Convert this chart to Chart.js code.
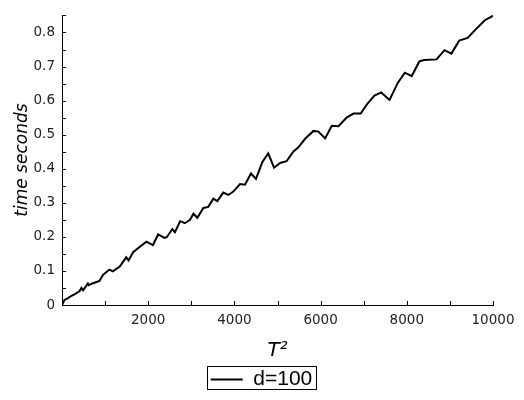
<!DOCTYPE html>
<html>
<head>
<meta charset="utf-8">
<script src="https://cdn.jsdelivr.net/npm/chart.js@4"></script>
<style>
  html, body { margin: 0; padding: 0; background: #fff; }
  #wrap { width: 524px; height: 400px; }
</style>
</head>
<body>
<div id="wrap"><canvas id="timeChart"></canvas></div>
<script>
// T^2 on the x axis, run time in seconds on the y axis
const tSquared = [0, 60, 140, 220, 300, 410, 450, 490, 600, 620, 720, 870, 950, 1100, 1180, 1340,
  1490, 1545, 1650, 1800, 1960, 2110, 2230, 2380, 2430, 2560, 2620, 2740, 2850, 2970, 3050, 3140,
  3280, 3395, 3510, 3605, 3740, 3860, 3975, 4130, 4245, 4385, 4500, 4650, 4785, 4920, 5060, 5210,
  5370, 5485, 5640, 5835, 5950, 6105, 6260, 6415, 6610, 6765, 6930, 7080, 7250, 7405, 7600, 7790,
  7955, 8115, 8290, 8400, 8690, 8875, 9035, 9215, 9410, 9600, 9810, 10000];
const timeSec = [0, 0.015, 0.02, 0.027, 0.032, 0.041, 0.05, 0.043, 0.063, 0.058, 0.064, 0.071, 0.088, 0.104, 0.099, 0.113,
  0.14, 0.131, 0.155, 0.17, 0.186, 0.176, 0.207, 0.197, 0.199, 0.223, 0.214, 0.246, 0.24, 0.25, 0.268, 0.256,
  0.285, 0.288, 0.312, 0.305, 0.33, 0.323, 0.333, 0.355, 0.353, 0.386, 0.37, 0.42, 0.445, 0.403, 0.417, 0.422,
  0.451, 0.463, 0.488, 0.511, 0.509, 0.489, 0.526, 0.525, 0.551, 0.562, 0.562, 0.59, 0.615, 0.624, 0.602, 0.652,
  0.682, 0.672, 0.715, 0.719, 0.721, 0.748, 0.738, 0.776, 0.784, 0.809, 0.836, 0.849];
const xTicks = [2000, 4000, 6000, 8000, 10000];
const yTicks = [0, 0.1, 0.2, 0.3, 0.4, 0.5, 0.6, 0.7, 0.8];

const tickFont = { family: 'DejaVu Sans', size: 13.5 };

// small tick marks pointing into the plot, plus the box round the legend
const innerTicks = {
  id: 'innerTicks',
  afterDraw(chart) {
    const { ctx, chartArea, scales } = chart;
    ctx.save();
    ctx.strokeStyle = '#000';
    ctx.lineWidth = 1;
    ctx.beginPath();
    for (let v = 1000; v <= 10000; v += 1000) {
      const px = Math.round(scales.x.getPixelForValue(v)) + 0.5;
      ctx.moveTo(px, chartArea.bottom);
      ctx.lineTo(px, chartArea.bottom - 4);
    }
    for (let i = 1; i <= 17; i++) {
      const py = Math.round(scales.y.getPixelForValue(i * 0.05)) + 0.5;
      ctx.moveTo(chartArea.left, py);
      ctx.lineTo(chartArea.left + 4, py);
    }
    ctx.stroke();
    const hb = chart.legend.legendHitBoxes[0];
    if (hb) {
      ctx.strokeRect(Math.round(hb.left) - 3.5, Math.round(hb.top) - 2.5,
        Math.round(hb.width) + 8, Math.round(hb.height) + 2);
    }
    ctx.restore();
  }
};

new Chart(document.getElementById('timeChart'), {
  type: 'line',
  data: {
    datasets: [{
      label: 'd=100',
      data: tSquared.map((x, i) => ({ x: x, y: timeSec[i] })),
      borderColor: '#000',
      backgroundColor: '#000',
      borderWidth: 2,
      pointRadius: 0,
      tension: 0,
      fill: false
    }]
  },
  options: {
    responsive: true,
    maintainAspectRatio: false,
    animation: false,
    layout: { padding: { top: 8, right: 31, left: 30, bottom: 0 } },
    plugins: {
      legend: {
        position: 'bottom',
        labels: {
          usePointStyle: true,
          pointStyle: 'line',
          pointStyleWidth: 32,
          padding: 4,
          color: '#000',
          font: { family: 'Liberation Sans', size: 21 }
        }
      },
      tooltip: { enabled: false }
    },
    scales: {
      x: {
        type: 'linear',
        min: 0,
        max: 10000,
        afterFit(scale) { scale.height = 60; },
        afterBuildTicks(scale) { scale.ticks = xTicks.map(v => ({ value: v })); },
        grid: { display: false, drawTicks: false },
        border: { color: '#000', width: 1 },
        ticks: { color: '#222', font: tickFont, padding: 7, maxRotation: 0, callback: v => String(v) },
        title: {
          display: true,
          text: 'T²',
          color: '#000',
          font: { family: 'DejaVu Sans', size: 20, style: 'italic' },
          padding: { top: 0, bottom: 2 }
        }
      },
      y: {
        min: 0,
        max: 0.851,
        afterFit(scale) { scale.width = 32; },
        afterBuildTicks(scale) { scale.ticks = yTicks.map(v => ({ value: v })); },
        grid: { display: false, drawTicks: false },
        border: { color: '#000', width: 1 },
        ticks: {
          color: '#222',
          font: tickFont,
          padding: 7,
          callback: v => String(+v.toFixed(2))
        },
        title: {
          display: true,
          text: 'time seconds',
          color: '#000',
          font: { family: 'DejaVu Sans', size: 17, style: 'italic' },
          padding: { top: -18, bottom: 0 }
        }
      }
    }
  },
  plugins: [innerTicks]
});
</script>
</body>
</html>
